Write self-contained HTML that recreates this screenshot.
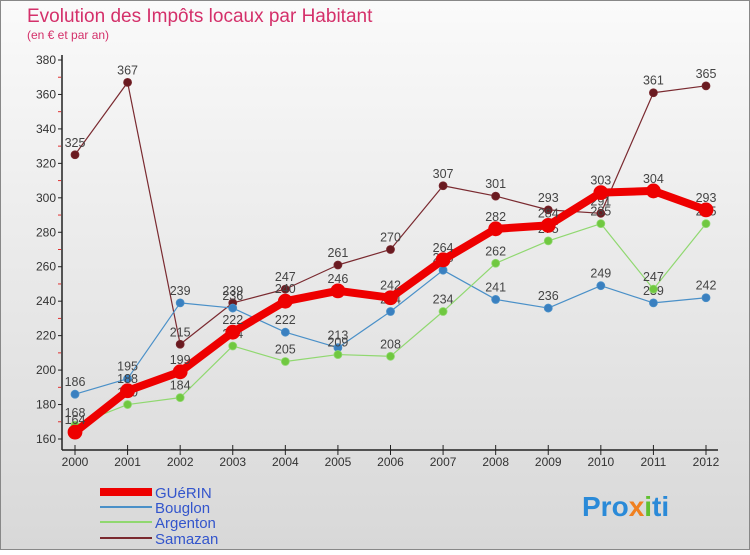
<!DOCTYPE html>
<html><head><meta charset="utf-8"><style>
body{margin:0;width:750px;height:550px;overflow:hidden;font-family:"Liberation Sans",sans-serif}
</style></head><body>
<svg width="750" height="550" xmlns="http://www.w3.org/2000/svg">
<defs><linearGradient id="bg" x1="0" y1="0" x2="0" y2="1"><stop offset="0" stop-color="#fafafa"/><stop offset="1" stop-color="#d8d8d8"/></linearGradient></defs>
<rect x="0.5" y="0.5" width="749" height="549" fill="url(#bg)" stroke="#888"/>
<text x="27" y="22" font-size="19" fill="#d4306a">Evolution des Impôts locaux par Habitant</text>
<text x="27" y="39" font-size="12" fill="#d4306a">(en € et par an)</text>
<g id="axes"></g><g id="series"></g>
<g>
<line x1="100" y1="492" x2="152" y2="492" stroke="#ee0000" stroke-width="8"/>
<text x="155" y="498" font-size="15" fill="#3355cc">GUéRIN</text>
<line x1="100" y1="507" x2="152" y2="507" stroke="#4a90c8" stroke-width="2"/>
<text x="155" y="513" font-size="15" fill="#3355cc">Bouglon</text>
<line x1="100" y1="522" x2="152" y2="522" stroke="#90d870" stroke-width="2"/>
<text x="155" y="528" font-size="15" fill="#3355cc">Argenton</text>
<line x1="100" y1="538" x2="152" y2="538" stroke="#7a2a30" stroke-width="2"/>
<text x="155" y="544" font-size="15" fill="#3355cc">Samazan</text>
</g>
<text x="582" y="516" font-size="28" font-weight="bold" fill="#2a8ad8">Pro<tspan fill="#f08020">x</tspan><tspan fill="#60c030">i</tspan>ti</text>
</svg>
<script>
const years=["2000","2001","2002","2003","2004","2005","2006","2007","2008","2009","2010","2011","2012"];
const yTicks=[160,180,200,220,240,260,280,300,320,340,360,380];
const guerin=[164,188,199,222,240,246,242,264,282,284,303,304,293];
const bouglon=[186,195,239,236,222,213,234,258,241,236,249,239,242];
const argenton=[168,180,184,214,205,209,208,234,262,275,285,247,285];
const samazan=[325,367,215,239,247,261,270,307,301,293,291,361,365];
const NS="http://www.w3.org/2000/svg";
const X=i=>75+i*(706-75)/12;
const Y=v=>439-(v-160)*(439-60)/220;
function mk(t,a,p){const e=document.createElementNS(NS,t);for(const k in a)e.setAttribute(k,a[k]);p.appendChild(e);return e;}
const ax=document.getElementById('axes');
const yl=mk('line',{x1:62,y1:55,x2:62,y2:450,stroke:'#222','stroke-width':1.5},ax);


const xl=mk('line',{x1:62,y1:450,x2:718,y2:450,stroke:'#222','stroke-width':1.5},ax);


yTicks.forEach((v,k)=>{
 mk('line',{x1:58,y1:Y(v),x2:62,y2:Y(v),stroke:'#222'},ax);
 if(k<yTicks.length-1) mk('line',{x1:58,y1:Y(v+10),x2:61,y2:Y(v+10),stroke:'#e03030'},ax);
 const t=mk('text',{x:56,y:Y(v)+4,'font-size':12,fill:'#333','text-anchor':'end'},ax);
 
 
 t.textContent=v;
});
years.forEach((y,i)=>{
 mk('line',{x1:X(i),y1:445,x2:X(i),y2:455,stroke:'#222'},ax);
 const t=mk('text',{x:X(i),y:466,'font-size':12,fill:'#333','text-anchor':'middle'},ax);
 
 
 t.textContent=y;
});
const sg=document.getElementById('series');
function draw(name,data,color,w,r,dot){
 const g=mk('g',{},sg);
 
 
 mk('polyline',{points:data.map((v,i)=>X(i)+','+Y(v)).join(' '),fill:'none',stroke:color,'stroke-width':w,'stroke-linejoin':'round'},g);
 data.forEach((v,i)=>{
  const c=mk('circle',{cx:X(i),cy:Y(v),r:r,fill:dot,stroke:color,'stroke-width':0.8},g);
  
  
  const t=mk('text',{x:X(i),y:Y(v)-8,'font-size':12.5,fill:'#444','text-anchor':'middle'},g);
  
  
  t.textContent=v;
 });
}
draw('samazan',samazan,'#7a2a30',1.2,4,'#6a1a20');
draw('bouglon',bouglon,'#4a90c8',1.2,4,'#3a80c0');
draw('argenton',argenton,'#90d870',1.2,4,'#70c840');
draw('guerin',guerin,'#ee0000',8,7,'#ee0000');
</script>
</body></html>
